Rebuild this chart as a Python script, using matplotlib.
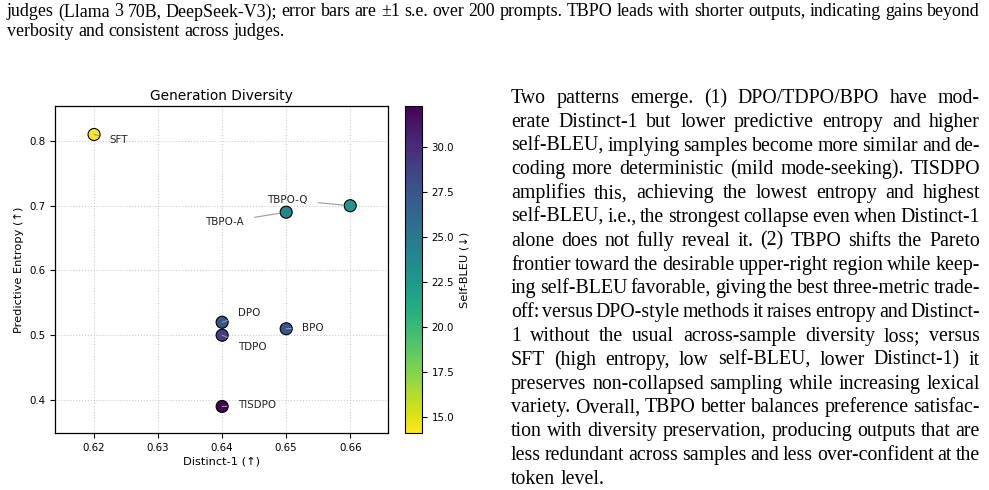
import matplotlib
matplotlib.use("Agg")
import matplotlib.pyplot as plt
import matplotlib.colors as mcolors
import numpy as np

# ---------------- data ----------------
methods = ["SFT", "TBPO-A", "TBPO-Q", "DPO", "TDPO", "BPO", "TISDPO"]
distinct1 = [0.62, 0.65, 0.66, 0.64, 0.64, 0.65, 0.64]
entropy = [0.81, 0.69, 0.70, 0.52, 0.50, 0.51, 0.39]
self_bleu = [14.1, 23.9, 22.7, 27.5, 29.1, 27.4, 32.3]
x_ticks = [0.62, 0.63, 0.64, 0.65, 0.66]
y_ticks = [0.4, 0.5, 0.6, 0.7, 0.8]
cbar_ticks = [15.0, 17.5, 20.0, 22.5, 25.0, 27.5, 30.0]

caption_lines = [
    "judges (Llama 3 70B, DeepSeek-V3); error bars are \u00b11 s.e. over 200 prompts. TBPO leads with shorter outputs, indicating gains beyond",
    "verbosity and consistent across judges.",
]
para_lines = [
    "Two patterns emerge.  (1) DPO/TDPO/BPO have mod-",
    "erate Distinct-1 but lower predictive entropy and higher",
    "self-BLEU, implying samples become more similar and de-",
    "coding more deterministic (mild mode-seeking). TISDPO",
    "amplifies this, achieving the lowest entropy and highest",
    "self-BLEU, i.e., the strongest collapse even when Distinct-1",
    "alone does not fully reveal it. (2) TBPO shifts the Pareto",
    "frontier toward the desirable upper-right region while keep-",
    "ing self-BLEU favorable, giving the best three-metric trade-",
    "off: versus DPO-style methods it raises entropy and Distinct-",
    "1 without the usual across-sample diversity loss; versus",
    "SFT (high entropy, low self-BLEU, lower Distinct-1) it",
    "preserves non-collapsed sampling while increasing lexical",
    "variety. Overall, TBPO better balances preference satisfac-",
    "tion with diversity preservation, producing outputs that are",
    "less redundant across samples and less over-confident at the",
    "token level.",
]

# label offsets (pixels) for annotations
label_offsets = {
    "SFT": (25, -6), "TBPO-A": (-62, -10), "TBPO-Q": (-63, 6),
    "DPO": (27, 9), "TDPO": (30, -12), "BPO": (27, 1), "TISDPO": (35, 1),
}

W, H = 989, 490
fig = plt.figure(figsize=(W / 100, H / 100), dpi=100)
fig.patch.set_facecolor("white")

# ---------------- chart ----------------
ax = fig.add_axes([55 / W, 1 - 433 / H, 333 / W, 327 / H])
cax = fig.add_axes([405 / W, 1 - 433 / H, 16.7 / W, 327 / H])

norm = mcolors.Normalize(vmin=min(self_bleu), vmax=max(self_bleu))
sc = ax.scatter(distinct1, entropy, c=self_bleu, cmap="viridis_r", norm=norm,
                s=75, edgecolors="black", linewidths=0.8, zorder=3)

for m, xv, yv in zip(methods, distinct1, entropy):
    dx, dy = label_offsets[m]
    ax.annotate(m, xy=(xv, yv), xytext=(dx, dy), textcoords="offset pixels",
                ha="center", va="center", fontsize=7.4, color="#222222",
                arrowprops=dict(arrowstyle="-", color="#999999", lw=0.8,
                                shrinkA=6, shrinkB=5), zorder=4)

ax.set_xlim(0.6139, 0.6659)
ax.set_ylim(0.349, 0.854)
ax.set_xticks(x_ticks)
ax.set_yticks(y_ticks)
ax.set_xticklabels([f"{v:.2f}" for v in x_ticks])
ax.set_yticklabels([f"{v:.1f}" for v in y_ticks])
ax.tick_params(labelsize=7.4, length=3.5, width=0.8)
ax.grid(True, linestyle=":", color="#cccccc", linewidth=0.8, zorder=0)
ax.set_axisbelow(True)
ax.set_title("Generation Diversity", fontsize=9.9, pad=4)
ax.set_xlabel("Distinct-1 (\u2191)", fontsize=8.2, labelpad=3)
ax.set_ylabel("Predictive Entropy (\u2191)", fontsize=8.2, labelpad=4)
for sp in ax.spines.values():
    sp.set_linewidth(0.9)

cb = fig.colorbar(sc, cax=cax)
cb.set_ticks(cbar_ticks)
cb.set_ticklabels([f"{v:.1f}" for v in cbar_ticks])
cb.ax.tick_params(labelsize=7.4, length=3.5, width=0.8)
cb.set_label("Self-BLEU (\u2193)", fontsize=8.2, labelpad=4)
cb.outline.set_linewidth(0.8)

# ---------------- justified text ----------------
renderer = fig.canvas.get_renderer()
SERIF = "Liberation Serif"


def text_width(s, size):
    t = fig.text(0, 0, s, fontsize=size, family=SERIF)
    w = t.get_window_extent(renderer).width
    t.remove()
    return w


def place_line(line, x0, x1, ybase, size, justify=True):
    words = [w for w in line.split(" ") if w != ""]
    widths = [text_width(w, size) for w in words]
    space = text_width("a a", size) - text_width("aa", size)
    if justify and len(words) > 1:
        gap = (x1 - x0 - sum(widths)) / (len(words) - 1)
    else:
        gap = space
    x = x0
    for w, wd in zip(words, widths):
        fig.text(x / W, 1 - ybase / H, w, fontsize=size, family=SERIF,
                 ha="left", va="baseline", color="black")
        x += wd + gap


cap_size = 12.9
cap_base = [16.5, 36.5]
for i, line in enumerate(caption_lines):
    place_line(line, 7, 980, cap_base[i], cap_size,
               justify=(i < len(caption_lines) - 1))

par_size = 14.3
par_y0 = 103.0
par_step = 23.8
for i, line in enumerate(para_lines):
    place_line(line, 511, 980, par_y0 + i * par_step, par_size,
               justify=(i < len(para_lines) - 1))

fig.savefig("out.png", dpi=100)
